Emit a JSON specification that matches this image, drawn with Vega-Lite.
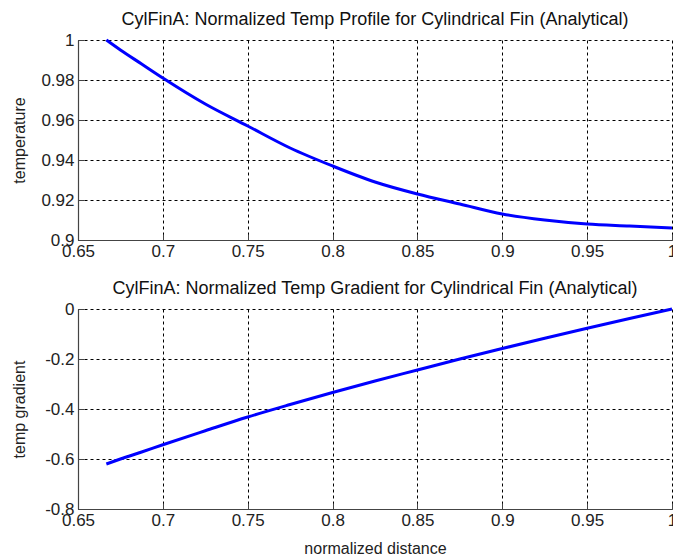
{
  "$schema": "https://vega.github.io/schema/vega-lite/v6.json",
  "background": "white",
  "padding": {"left": 11, "top": 11, "right": 0, "bottom": 5},
  "spacing": 21,
  "datasets": {
    "fin": [
      {"x": 0.6667, "temperature": 1.000, "gradient": -0.620},
      {"x": 0.675, "temperature": 0.995, "gradient": -0.600},
      {"x": 0.6875, "temperature": 0.988, "gradient": -0.572},
      {"x": 0.7, "temperature": 0.981, "gradient": -0.543},
      {"x": 0.725, "temperature": 0.968, "gradient": -0.487},
      {"x": 0.75, "temperature": 0.957, "gradient": -0.432},
      {"x": 0.775, "temperature": 0.946, "gradient": -0.382},
      {"x": 0.8, "temperature": 0.937, "gradient": -0.334},
      {"x": 0.825, "temperature": 0.929, "gradient": -0.288},
      {"x": 0.85, "temperature": 0.923, "gradient": -0.244},
      {"x": 0.875, "temperature": 0.918, "gradient": -0.200},
      {"x": 0.9, "temperature": 0.913, "gradient": -0.158},
      {"x": 0.925, "temperature": 0.910, "gradient": -0.117},
      {"x": 0.95, "temperature": 0.908, "gradient": -0.077},
      {"x": 0.975, "temperature": 0.907, "gradient": -0.038},
      {"x": 1.0, "temperature": 0.906, "gradient": 0.0}
    ]
  },
  "config": {
    "font": "Liberation Sans",
    "view": {"stroke": null},
    "title": {"fontSize": 18, "fontWeight": "normal", "font": "Liberation Sans", "color": "#111", "offset": 2},
    "axis": {
      "labelFont": "Liberation Sans",
      "titleFont": "Liberation Sans",
      "labelFontSize": 17,
      "titleFontSize": 16,
      "titleFontWeight": "normal",
      "labelColor": "#222",
      "titleColor": "#222",
      "domainColor": "#444",
      "domainWidth": 1.2,
      "tickColor": "#444",
      "tickSize": -6,
      "grid": true,
      "gridColor": "black",
      "gridOpacity": 1,
      "gridWidth": 1,
      "gridDash": [3, 3]
    }
  },
  "vconcat": [
    {
      "width": 594,
      "height": 200,
      "title": "CylFinA:  Normalized Temp Profile for Cylindrical Fin (Analytical)",
      "data": {"name": "fin"},
      "mark": {"type": "line", "color": "#0000ff", "strokeWidth": 3, "interpolate": "monotone"},
      "encoding": {
        "x": {"field": "x", "type": "quantitative", "scale": {"domain": [0.65, 1], "nice": false},
              "axis": {"values": [0.65, 0.7, 0.75, 0.8, 0.85, 0.9, 0.95, 1], "format": ".2~f", "labelFlush": false, "labelPadding": 9, "title": null}},
        "y": {"field": "temperature", "type": "quantitative", "scale": {"domain": [0.9, 1], "nice": false, "zero": false},
              "axis": {"values": [0.9, 0.92, 0.94, 0.96, 0.98, 1], "format": ".2~f", "labelPadding": 10, "title": "temperature", "titleX": -59, "titleY": 100, "titleBaseline": "middle", "titleAngle": 270, "titleAlign": "center"}}
      }
    },
    {
      "width": 594,
      "height": 200,
      "title": "CylFinA:  Normalized Temp Gradient for Cylindrical Fin (Analytical)",
      "data": {"name": "fin"},
      "mark": {"type": "line", "color": "#0000ff", "strokeWidth": 3, "interpolate": "monotone"},
      "encoding": {
        "x": {"field": "x", "type": "quantitative", "scale": {"domain": [0.65, 1], "nice": false},
              "axis": {"values": [0.65, 0.7, 0.75, 0.8, 0.85, 0.9, 0.95, 1], "format": ".2~f", "labelFlush": false, "labelPadding": 9, "title": "normalized distance", "titlePadding": 12}},
        "y": {"field": "gradient", "type": "quantitative", "scale": {"domain": [-0.8, 0], "nice": false},
              "axis": {"values": [-0.8, -0.6, -0.4, -0.2, 0], "labelExpr": "replace(format(datum.value, '.1~f'), '\u2212', '-')", "labelPadding": 10, "title": "temp gradient", "titleX": -59, "titleY": 100, "titleBaseline": "middle", "titleAngle": 270, "titleAlign": "center"}}
      }
    }
  ]
}
